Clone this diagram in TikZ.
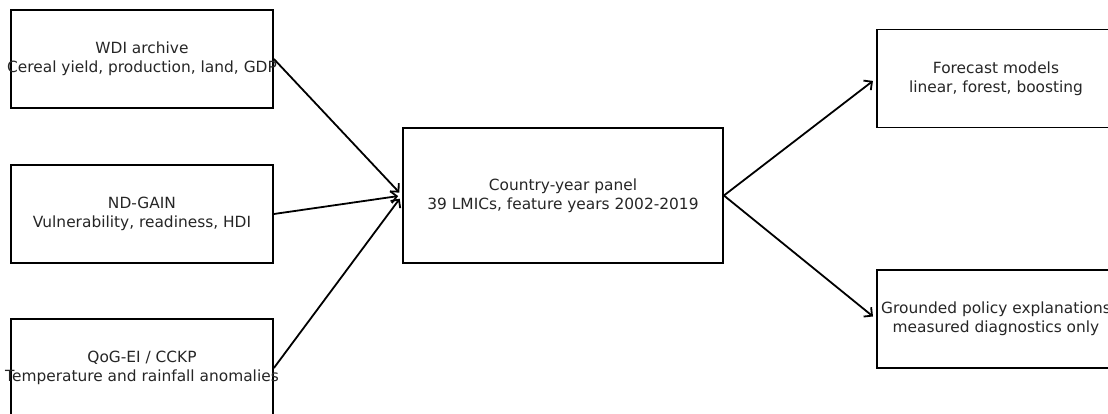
\documentclass[tikz,border=0pt]{standalone}
\usepackage{fontspec}
\setmainfont{DejaVu Sans}
\usetikzlibrary{arrows.meta}
\newcommand{\ctrline}[1]{\makebox[0pt]{#1}}
\tikzset{
  box/.style={draw=black, line width=1.8pt, rectangle, inner sep=0pt, align=center,
    font=\fontsize{15.4pt}{19pt}\selectfont, text=black!85},
  conn/.style={line width=1.8pt, -{Straight Barb[length=6pt,width=12pt,line width=1.8pt]}, shorten >=4pt}
}
\begin{document}
\begin{tikzpicture}[x=1pt,y=-1pt]
\clip (0,0) rectangle (1108,414);
\fill[white] (0,0) rectangle (1108,414);
\node[box, minimum width=262pt, minimum height=98pt] (wdi) at (142,59)
  {\ctrline{WDI archive}\\\ctrline{Cereal yield, production, land, GDP}};
\node[box, minimum width=262pt, minimum height=98pt] (nd) at (142,214)
  {\ctrline{ND-GAIN}\\\ctrline{Vulnerability, readiness, HDI}};
\node[box, minimum width=262pt, minimum height=98pt] (qog) at (142,368)
  {\ctrline{QoG-EI / CCKP}\\\ctrline{Temperature and rainfall anomalies}};
\node[box, minimum width=320pt, minimum height=135pt] (panel) at (563,195.5)
  {\ctrline{Country-year panel}\\\ctrline{39 LMICs, feature years 2002-2019}};
\node[box, minimum width=238pt, minimum height=98pt] (fc) at (996,78.5)
  {\ctrline{Forecast models}\\\ctrline{linear, forest, boosting}};
\node[box, minimum width=238pt, minimum height=98pt] (gp) at (996,319)
  {\ctrline{Grounded policy explanations}\\\ctrline{measured diagnostics only}};
\draw[conn] (wdi.east) -- (panel.west);
\draw[conn] (nd.east) -- (panel.west);
\draw[conn] (qog.east) -- (panel.west);
\draw[conn] (panel.east) -- (fc.west);
\draw[conn] (panel.east) -- (gp.west);
\end{tikzpicture}
\end{document}
